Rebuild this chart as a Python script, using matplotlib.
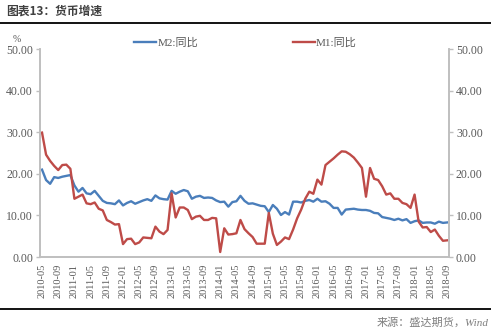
import numpy as np
import matplotlib
matplotlib.use("Agg")
import matplotlib.pyplot as plt
from matplotlib.lines import Line2D

# ---- data (monthly, 2010-05 .. 2018-09) ----
m2 = [21.0, 18.5, 17.6, 19.2, 19.0, 19.3, 19.5, 19.7,
      17.2, 15.7, 16.6, 15.3, 15.1, 15.9, 14.7, 13.5, 13.0, 12.9, 12.7, 13.6,
      12.4, 13.0, 13.4, 12.8, 13.2, 13.6, 13.9, 13.5, 14.8, 14.1, 13.9, 13.8,
      15.9, 15.2, 15.7, 16.1, 15.8, 14.0, 14.5, 14.7, 14.2, 14.3, 14.2, 13.6,
      13.2, 13.3, 12.1, 13.2, 13.4, 14.7, 13.5, 12.8, 12.9, 12.6, 12.3, 12.2,
      10.8, 12.5, 11.6, 10.1, 10.8, 10.2, 13.3, 13.3, 13.1, 13.5, 13.7, 13.3,
      14.0, 13.3, 13.4, 12.8, 11.8, 11.8, 10.2, 11.4, 11.5, 11.6, 11.4, 11.3,
      11.3, 11.1, 10.6, 10.5, 9.6, 9.4, 9.2, 8.9, 9.2, 8.8, 9.1, 8.2,
      8.6, 8.8, 8.2, 8.3, 8.3, 8.0, 8.5, 8.2, 8.3]
m1 = [29.9, 24.6, 23.1, 21.9, 20.9, 22.1, 22.2, 21.2,
      14.0, 14.5, 15.0, 12.9, 12.7, 13.1, 11.6, 11.2, 8.9, 8.4, 7.8, 7.9,
      3.1, 4.3, 4.4, 3.1, 3.5, 4.7, 4.6, 4.5, 7.3, 6.1, 5.5, 6.5,
      15.3, 9.5, 11.9, 11.9, 11.3, 9.1, 9.7, 9.9, 8.9, 8.9, 9.4, 9.3,
      1.2, 6.9, 5.4, 5.5, 5.7, 8.9, 6.7, 5.7, 4.8, 3.2, 3.2, 3.2,
      10.6, 5.6, 2.9, 3.7, 4.7, 4.3, 6.6, 9.3, 11.4, 14.0, 15.7, 15.2,
      18.6, 17.4, 22.1, 22.9, 23.7, 24.6, 25.4, 25.3, 24.7, 23.9, 22.7, 21.4,
      14.5, 21.4, 18.8, 18.5, 17.0, 15.0, 15.3, 14.0, 14.0, 13.0, 12.7, 11.8,
      15.0, 8.5, 7.1, 7.2, 6.0, 6.6, 5.1, 3.9, 4.0]
tick_labels = ["2010-05", "2010-09", "2011-01", "2011-05", "2011-09", "2012-01",
               "2012-05", "2012-09", "2013-01", "2013-05", "2013-09", "2014-01",
               "2014-05", "2014-09", "2015-01", "2015-05", "2015-09", "2016-01",
               "2016-05", "2016-09", "2017-01", "2017-05", "2017-09", "2018-01",
               "2018-05", "2018-09"]
y_ticks = [0, 10, 20, 30, 40, 50]
series_names = ["M2:同比", "M1:同比"]

num_font = ["Liberation Serif", "Noto Sans CJK SC"]
cjk_font = ["Noto Sans CJK SC", "DejaVu Sans"]
txt_color = "#595959"
axis_color = "#BFBFBF"
blue = "#4A7EBB"
red = "#BE4B48"

fig = plt.figure(figsize=(4.91, 3.33), dpi=100)
ax = fig.add_axes([40/491, 1-257/333, 409/491, 208/333])
ax2 = ax.twinx()

x = np.arange(len(m2))
ax.plot(x, m2, color=blue, lw=1.7, solid_joinstyle="round")
ax.plot(x, m1, color=red, lw=1.7, solid_joinstyle="round")

ax.set_xlim(-0.5, len(m2) - 0.5)
for a in (ax, ax2):
    a.set_ylim(0, 50)
    a.set_yticks(y_ticks)
    a.set_yticklabels([f"{v:.2f}" for v in y_ticks], fontfamily=num_font,
                      fontsize=8.5, color=txt_color)
    a.spines["top"].set_visible(False)
    for s in ("left", "right", "bottom"):
        a.spines[s].set_color(axis_color)
        a.spines[s].set_linewidth(1.2)
    a.tick_params(axis="y", length=3, width=1, color=axis_color, pad=2)

ax.set_xticks(np.arange(0, len(m2), 4))
ax.set_xticklabels(tick_labels, rotation=90, fontfamily=num_font, fontsize=7.5,
                   color=txt_color)
ax.tick_params(axis="x", length=0, pad=5)

# legend
handles = [Line2D([], [], color=blue, lw=1.7), Line2D([], [], color=red, lw=1.7)]
leg = fig.legend(handles, series_names, loc="center", bbox_to_anchor=(0.5, 1-43/333),
                 ncol=2, frameon=False, handlelength=2.0, handletextpad=0.1,
                 columnspacing=8.5, prop={"family": num_font, "size": 8})
for t in leg.get_texts():
    t.set_color(txt_color)

# % label
fig.text(17/491, 1-40/333, "%", fontsize=7, color=txt_color, ha="center",
         va="center", fontfamily=num_font)

# title and rules
fig.text(6/491, 1-11/333, "图表13：货币增速", fontsize=8.5, color="#404040",
         fontweight="bold", fontfamily=cjk_font, ha="left", va="center")
fig.add_artist(Line2D([0, 1], [1-22.5/333, 1-22.5/333], color="black", lw=1.3,
                      transform=fig.transFigure))
fig.add_artist(Line2D([0, 1], [1-309/333, 1-309/333], color="black", lw=1.3,
                      transform=fig.transFigure))
fig.text(489/491, 1-322/333, "来源：盛达期货，Wind", fontsize=8, color="#7F7F7F",
         style="italic", fontfamily=["Liberation Serif", "Noto Sans CJK SC"],
         ha="right", va="center")

fig.savefig("out.png", dpi=100)
